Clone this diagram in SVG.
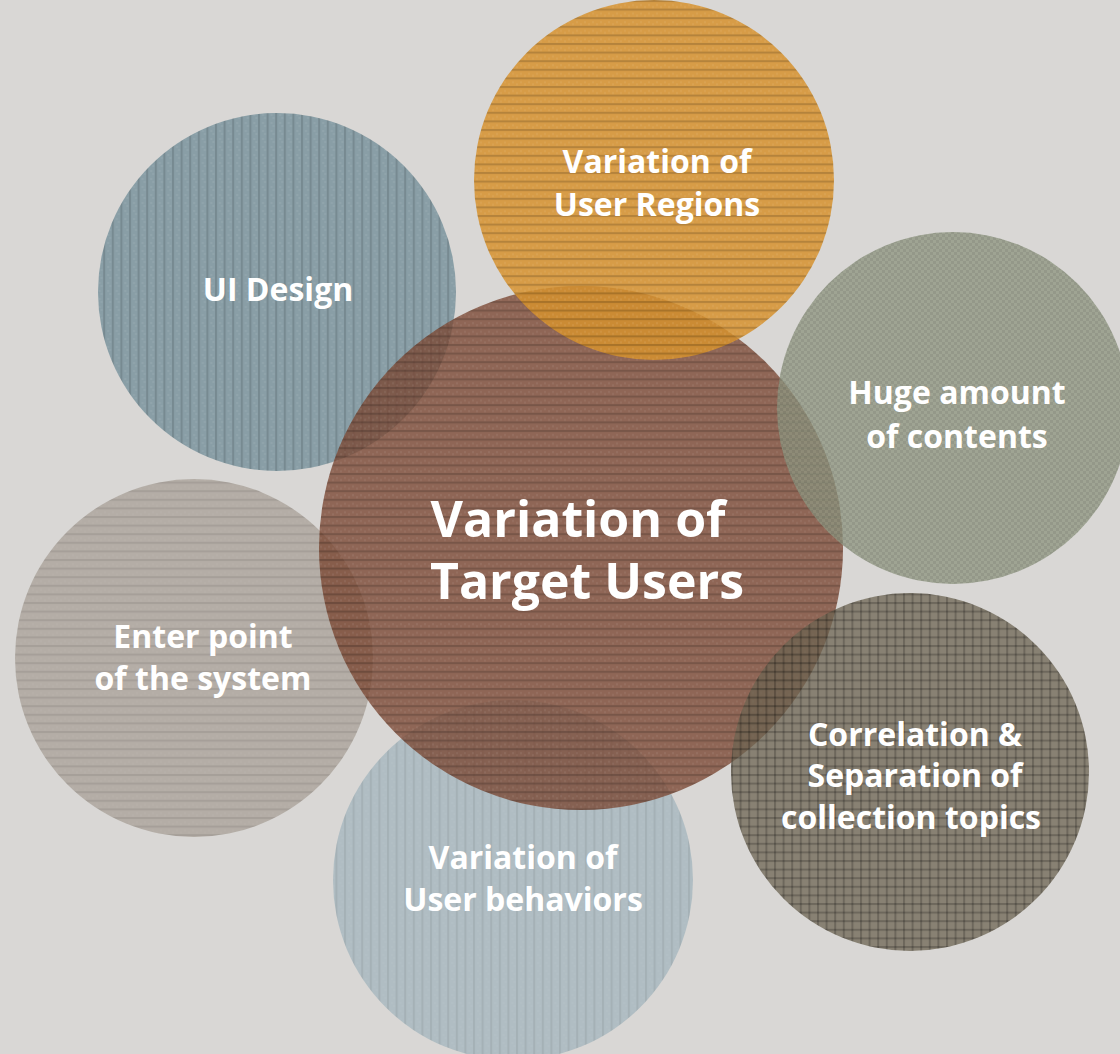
<svg xmlns="http://www.w3.org/2000/svg" width="1120" height="1054" viewBox="0 0 1120 1054">
<defs>
<pattern id="hl" patternUnits="userSpaceOnUse" width="8" height="8.6"><rect x="0" y="0" width="8" height="2" fill="#000" fill-opacity="0.16"/><rect x="0" y="4" width="2" height="2" fill="#fff" fill-opacity="0.06"/><rect x="4" y="6" width="2" height="2" fill="#fff" fill-opacity="0.06"/></pattern>
<pattern id="vl" patternUnits="userSpaceOnUse" width="8.6" height="8"><rect x="0" y="0" width="2" height="8" fill="#000" fill-opacity="0.13"/><rect x="4" y="2" width="2" height="2" fill="#fff" fill-opacity="0.06"/><rect x="6" y="5" width="2" height="2" fill="#fff" fill-opacity="0.06"/></pattern>
<pattern id="gr" patternUnits="userSpaceOnUse" width="8.6" height="8.6"><rect x="0" y="0" width="8.6" height="2" fill="#000" fill-opacity="0.2"/><rect x="0" y="0" width="2" height="8.6" fill="#000" fill-opacity="0.2"/></pattern>
<pattern id="ck" patternUnits="userSpaceOnUse" width="6" height="6"><rect x="0" y="0" width="3" height="3" fill="#000" fill-opacity="0.07"/><rect x="3" y="3" width="3" height="3" fill="#000" fill-opacity="0.07"/></pattern>
</defs>
<style>
text{font-family:"Open Sans","Liberation Sans",sans-serif;font-weight:bold;fill:#fff;text-anchor:middle;font-variant-ligatures:none}
.s{font-size:32px}
.b{font-size:50px}
</style>
<rect width="1120" height="1054" fill="#d9d7d5"/>
<g id="connectors"/>
<g id="ui-design">
<circle cx="277" cy="292" r="179" fill="#7a949d" fill-opacity="0.85"/>
<circle cx="277" cy="292" r="179" fill="url(#vl)"/>
<text class="s" x="278" y="301">UI Design</text>
</g>
<g id="enter-point">
<circle cx="194" cy="658" r="179" fill="#aaa29a" fill-opacity="0.8"/>
<circle cx="194" cy="658" r="179" fill="url(#hl)" opacity="0.5"/>
<text class="s" x="203" y="648">Enter point</text>
<text class="s" x="203" y="690">of the system</text>
</g>
<g id="user-behaviors">
<circle cx="513" cy="880" r="180" fill="#a5b7be" fill-opacity="0.8"/>
<circle cx="513" cy="880" r="180" fill="url(#vl)" opacity="0.5"/>
<text class="s" x="523" y="869">Variation of</text>
<text class="s" x="523" y="911">User behaviors</text>
</g>
<g id="target-users">
<circle cx="581" cy="548" r="262" fill="#7a4632" fill-opacity="0.78"/>
<circle cx="581" cy="548" r="262" fill="url(#hl)"/>
<text class="b" x="578" y="537">Variation of</text>
<text class="b" x="587" y="599">Target Users</text>
</g>
<g id="user-regions">
<circle cx="654" cy="180" r="180" fill="#d6922e" fill-opacity="0.85"/>
<circle cx="654" cy="180" r="180" fill="url(#hl)"/>
<text class="s" x="657" y="173">Variation of</text>
<text class="s" x="657" y="216">User Regions</text>
</g>
<g id="huge-amount">
<circle cx="953" cy="408" r="176" fill="#8e9680" fill-opacity="0.78"/>
<circle cx="953" cy="408" r="176" fill="url(#ck)"/>
<text class="s" x="957" y="404">Huge amount</text>
<text class="s" x="957" y="448">of contents</text>
</g>
<g id="correlation">
<circle cx="910" cy="772" r="179" fill="#6c6452" fill-opacity="0.75"/>
<circle cx="910" cy="772" r="179" fill="url(#gr)"/>
<text class="s" x="915" y="746">Correlation &amp;</text>
<text class="s" x="915" y="787">Separation of</text>
<text class="s" x="911" y="829">collection topics</text>
</g>
</svg>
